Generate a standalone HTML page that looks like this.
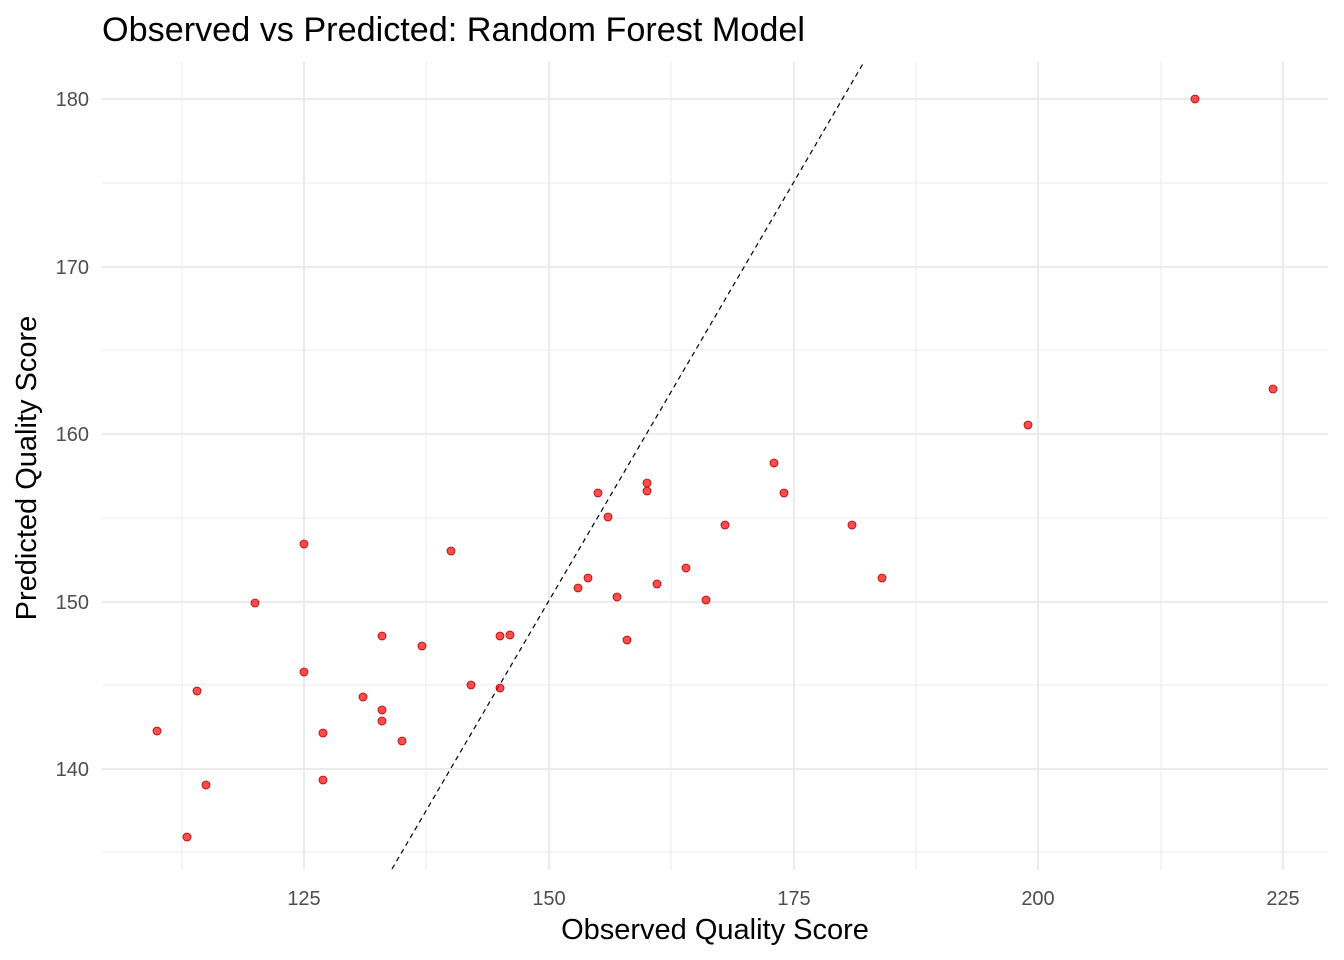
<!DOCTYPE html>
<html><head><meta charset="utf-8"><style>
html,body{margin:0;padding:0;background:#fff;}
svg{display:block;font-family:"Liberation Sans",sans-serif;}
</style></head><body>
<svg width="1344" height="960" viewBox="0 0 1344 960">
<rect width="1344" height="960" fill="#fff"/>
<g stroke="#ebebeb" stroke-width="1">
<line x1="182" y1="62" x2="182" y2="870"/><line x1="426" y1="62" x2="426" y2="870"/><line x1="671" y1="62" x2="671" y2="870"/><line x1="916" y1="62" x2="916" y2="870"/><line x1="1161" y1="62" x2="1161" y2="870"/>
<line x1="102" y1="183" x2="1328" y2="183"/><line x1="102" y1="350" x2="1328" y2="350"/><line x1="102" y1="518" x2="1328" y2="518"/><line x1="102" y1="685" x2="1328" y2="685"/><line x1="102" y1="852" x2="1328" y2="852"/>
</g>
<g stroke="#ebebeb" stroke-width="2">
<line x1="304" y1="62" x2="304" y2="870"/><line x1="549" y1="62" x2="549" y2="870"/><line x1="794" y1="62" x2="794" y2="870"/><line x1="1038" y1="62" x2="1038" y2="870"/><line x1="1283" y1="62" x2="1283" y2="870"/>
<line x1="102" y1="99" x2="1328" y2="99"/><line x1="102" y1="267" x2="1328" y2="267"/><line x1="102" y1="434" x2="1328" y2="434"/><line x1="102" y1="602" x2="1328" y2="602"/><line x1="102" y1="769" x2="1328" y2="769"/>
</g>
<line x1="392" y1="869" x2="864" y2="62" stroke="#000" stroke-width="1.2" stroke-dasharray="5,4"/>
<g fill="#ff0000" fill-opacity="0.7" stroke="#b00000" stroke-width="0.8">
<circle cx="157" cy="731" r="4"/><circle cx="187" cy="837" r="4"/><circle cx="197" cy="691" r="4"/><circle cx="206" cy="785" r="4"/><circle cx="255" cy="603" r="4"/><circle cx="304" cy="544" r="4"/><circle cx="304" cy="672" r="4"/><circle cx="323" cy="733" r="4"/><circle cx="323" cy="780" r="4"/><circle cx="363" cy="697" r="4"/><circle cx="382" cy="636" r="4"/><circle cx="382" cy="710" r="4"/><circle cx="382" cy="721" r="4"/><circle cx="402" cy="741" r="4"/><circle cx="422" cy="646" r="4"/><circle cx="451" cy="551" r="4"/><circle cx="471" cy="685" r="4"/><circle cx="500" cy="636" r="4"/><circle cx="500" cy="688" r="4"/><circle cx="510" cy="635" r="4"/><circle cx="578" cy="588" r="4"/><circle cx="588" cy="578" r="4"/><circle cx="598" cy="493" r="4"/><circle cx="608" cy="517" r="4"/><circle cx="617" cy="597" r="4"/><circle cx="627" cy="640" r="4"/><circle cx="647" cy="483" r="4"/><circle cx="647" cy="491" r="4"/><circle cx="657" cy="584" r="4"/><circle cx="686" cy="568" r="4"/><circle cx="706" cy="600" r="4"/><circle cx="725" cy="525" r="4"/><circle cx="774" cy="463" r="4"/><circle cx="784" cy="493" r="4"/><circle cx="852" cy="525" r="4"/><circle cx="882" cy="578" r="4"/><circle cx="1028" cy="425" r="4"/><circle cx="1195" cy="99" r="4"/><circle cx="1273" cy="389" r="4"/>
</g>
<g fill="#4d4d4d" font-size="20" text-anchor="end">
<text x="89" y="106">180</text><text x="89" y="274">170</text><text x="89" y="441">160</text><text x="89" y="609">150</text><text x="89" y="776">140</text>
</g>
<g fill="#4d4d4d" font-size="20" text-anchor="middle">
<text x="304" y="905">125</text><text x="549" y="905">150</text><text x="794" y="905">175</text><text x="1038" y="905">200</text><text x="1283" y="905">225</text>
</g>
<text x="715" y="939" font-size="29" text-anchor="middle" fill="#000">Observed Quality Score</text>
<text transform="translate(36,468) rotate(-90)" font-size="29" text-anchor="middle" fill="#000">Predicted Quality Score</text>
<text x="102" y="41" font-size="34" textLength="703" lengthAdjust="spacingAndGlyphs" fill="#000">Observed vs Predicted: Random Forest Model</text>
</svg>
</body></html>
